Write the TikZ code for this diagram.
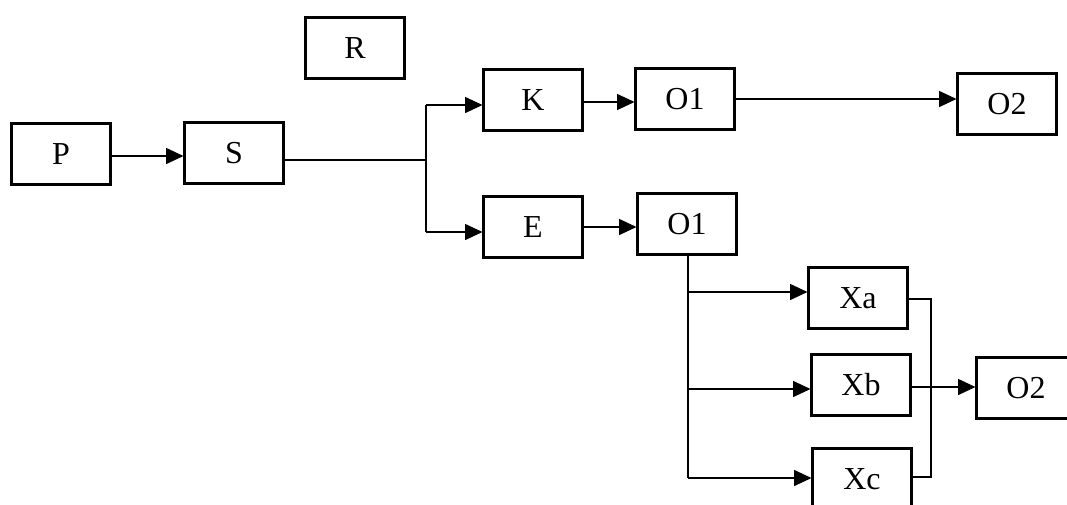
\documentclass[tikz,border=0pt]{standalone}
\usepackage{fontspec}
\setmainfont{Liberation Serif}
\usetikzlibrary{arrows.meta}

\tikzset{
  blk/.style={draw,line width=1.8pt,minimum width=74pt,minimum height=46pt,
    inner sep=0pt,font=\fontsize{24}{29}\selectfont},
  link/.style={line width=0.8pt},
  arr/.style={link,-{Triangle[length=13pt,width=12pt]}}
}

\begin{document}
\begin{tikzpicture}[x=0.75pt,y=-0.75pt]
\useasboundingbox (0,0) rectangle (1067,504);
\clip (0,0) rectangle (1067,504);

% blocks
\node[blk] (p)   at (61,154)  {P};
\node[blk] (s)   at (234,153) {S};
\node[blk] (r)   at (355,48)  {R};
\node[blk] (k)   at (533,100) {K};
\node[blk] (o1a) at (685,99)  {O1};
\node[blk] (o2a) at (1007,104){O2};
\node[blk] (e)   at (533,227) {E};
\node[blk] (o1b) at (687,224) {O1};
\node[blk] (xa)  at (858,298) {Xa};
\node[blk] (xb)  at (861,385) {Xb};
\node[blk] (xc)  at (862,479) {Xc};
\node[blk] (o2b) at (1026,388){O2};

% branch points
\coordinate (split) at (426,160);
\coordinate (kin)   at (426,105);
\coordinate (ein)   at (426,232);
\coordinate (ja)    at (688,292);
\coordinate (jb)    at (688,389);
\coordinate (jc)    at (688,478);
\coordinate (ma)    at (931,299);
\coordinate (mc)    at (931,477);

% top row
\draw[arr] (p.east |- 0,156) -- (s.west |- 0,156);
\draw[link] (s.east |- split) -- (split);
\draw[link] (kin) -- (ein);
\draw[arr] (kin) -- (kin -| k.west);
\draw[arr] (ein) -- (ein -| e.west);
\draw[arr] (k.east |- 0,102) -- (o1a.west |- 0,102);
\draw[arr] (o1a.east) -- (o1a.east -| o2a.west);
\draw[arr] (e.east) -- (e.east -| o1b.west);

% fan out and back in
\draw[link] (o1b.south -| ja) -- (jc);
\foreach \a/\b in {ja/xa,jb/xb,jc/xc}
  \draw[arr] (\a) -- (\a -| \b.west);
\draw[link] (ma -| xa.east) -- (ma) -- (mc) -- (mc -| xc.east);
\draw[arr] (xb.east |- 0,387) -- (o2b.west |- 0,387);
\end{tikzpicture}
\end{document}
